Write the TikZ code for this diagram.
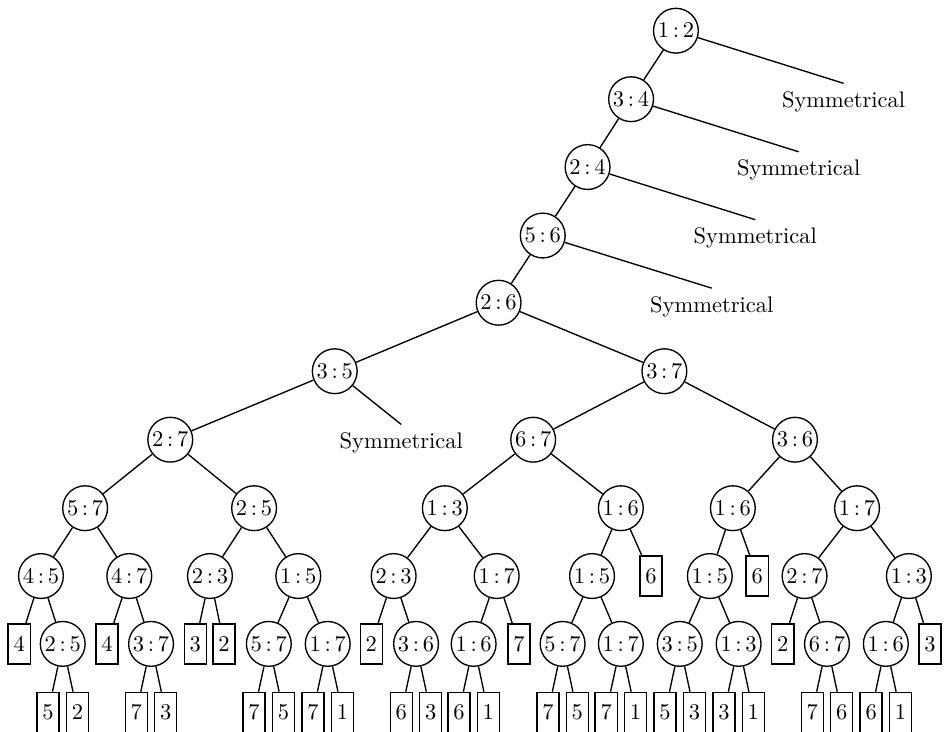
\documentclass[tikz,border=0pt]{standalone}
\usepackage{amsmath}
\usepackage{tikz}
\usetikzlibrary{positioning,calc}

\newcommand{\cmpr}[2]{$#1\,{:}\,#2$}

\begin{document}
\begin{tikzpicture}[semithick,
cmp/.style={draw,circle,minimum size=7mm,inner sep=0pt},
leaf/.style={draw,minimum width=3.45mm,minimum height=6.25mm,inner sep=0pt},
sym/.style={draw=none,fill=none}
]
\useasboundingbox (0,0) rectangle (14.78,-11.435);
% spine of the tree
\node[cmp] (s1) at (10.56,-0.48) {\cmpr12};
\node[cmp] (s2) at (9.86,-1.55) {\cmpr34};
\node[cmp] (s3) at (9.18,-2.61) {\cmpr24};
\node[cmp] (s4) at (8.48,-3.68) {\cmpr56};
\node[cmp] (s5) at (7.79,-4.73) {\cmpr26};
\node[sym] (sym1) at (13.18,-1.59) {Symmetrical};
\node[sym] (sym2) at (12.48,-2.66) {Symmetrical};
\node[sym] (sym3) at (11.80,-3.72) {Symmetrical};
\node[sym] (sym4) at (11.12,-4.79) {Symmetrical};
% level 5 and 6
\node[cmp] (l) at (5.23,-5.80) {\cmpr35};
\node[cmp] (r) at (10.38,-5.80) {\cmpr37};
\node[cmp] (ll) at (2.66,-6.87) {\cmpr27};
\node[sym] (sym5) at (6.27,-6.92) {Symmetrical};
\node[cmp] (rl) at (8.33,-6.87) {\cmpr67};
\node[cmp] (rr) at (12.42,-6.87) {\cmpr36};
% level 7
\node[cmp] (lll) at (1.33,-7.94) {\cmpr57};
\node[cmp] (llr) at (3.97,-7.94) {\cmpr25};
\node[cmp] (rll) at (6.95,-7.94) {\cmpr13};
\node[cmp] (rlr) at (9.70,-7.94) {\cmpr16};
\node[cmp] (rrl) at (11.45,-7.94) {\cmpr16};
\node[cmp] (rrr) at (13.39,-7.94) {\cmpr17};
% level 8
\node[cmp] (llll) at (0.64,-9.00) {\cmpr45};
\node[cmp] (lllr) at (2.02,-9.00) {\cmpr47};
\node[cmp] (llrl) at (3.28,-9.00) {\cmpr23};
\node[cmp] (llrr) at (4.66,-9.00) {\cmpr15};
\node[cmp] (rlll) at (6.15,-9.00) {\cmpr23};
\node[cmp] (rllr) at (7.76,-9.00) {\cmpr17};
\node[cmp] (rlrl) at (9.25,-9.00) {\cmpr15};
\node[leaf] (rlrr) at (10.17,-9.00) {6};
\node[cmp] (rrll) at (11.09,-9.00) {\cmpr15};
\node[leaf] (rrlr) at (11.83,-9.00) {6};
\node[cmp] (rrrl) at (12.57,-9.00) {\cmpr27};
\node[cmp] (rrrr) at (14.20,-9.00) {\cmpr13};
% level 9
\node[leaf] (lllll) at (0.30,-10.06) {4};
\node[cmp] (llllr) at (0.98,-10.06) {\cmpr25};
\node[leaf] (lllrl) at (1.67,-10.06) {4};
\node[cmp] (lllrr) at (2.36,-10.06) {\cmpr37};
\node[leaf] (llrll) at (3.05,-10.06) {3};
\node[leaf] (llrlr) at (3.50,-10.06) {2};
\node[cmp] (llrrl) at (4.20,-10.06) {\cmpr57};
\node[cmp] (llrrr) at (5.12,-10.06) {\cmpr17};
\node[leaf] (rllll) at (5.80,-10.06) {2};
\node[cmp] (rlllr) at (6.50,-10.06) {\cmpr36};
\node[cmp] (rllrl) at (7.40,-10.06) {\cmpr16};
\node[leaf] (rllrr) at (8.11,-10.06) {7};
\node[cmp] (rlrll) at (8.79,-10.06) {\cmpr57};
\node[cmp] (rlrlr) at (9.70,-10.06) {\cmpr17};
\node[cmp] (rrlll) at (10.62,-10.06) {\cmpr35};
\node[cmp] (rrllr) at (11.54,-10.06) {\cmpr13};
\node[leaf] (rrrll) at (12.23,-10.06) {2};
\node[cmp] (rrrlr) at (12.92,-10.06) {\cmpr67};
\node[cmp] (rrrrl) at (13.84,-10.06) {\cmpr16};
\node[leaf] (rrrrr) at (14.53,-10.06) {3};
% level 10, two leaves under each comparison
\foreach \p/\a/\b in {llllr/5/2,lllrr/7/3,llrrl/7/5,llrrr/7/1,rlllr/6/3,rllrl/6/1,
  rlrll/7/5,rlrlr/7/1,rrlll/5/3,rrllr/3/1,rrrlr/7/6,rrrrl/6/1}{
  \node[leaf] (\p-a) at ($(\p)+(-0.23,-1.07)$) {\a};
  \node[leaf] (\p-b) at ($(\p)+(0.23,-1.07)$) {\b};
  \draw (\p)--(\p-a);
  \draw (\p)--(\p-b);
}
\foreach \a/\b in {s1/s2,s2/s3,s3/s4,s4/s5,s5/l,s5/r,l/ll,r/rl,r/rr,
  ll/lll,ll/llr,rl/rll,rl/rlr,rr/rrl,rr/rrr,
  lll/llll,lll/lllr,llr/llrl,llr/llrr,rll/rlll,rll/rllr,rlr/rlrl,rlr/rlrr,
  rrl/rrll,rrl/rrlr,rrr/rrrl,rrr/rrrr,
  llll/lllll,llll/llllr,lllr/lllrl,lllr/lllrr,llrl/llrll,llrl/llrlr,
  llrr/llrrl,llrr/llrrr,rlll/rllll,rlll/rlllr,rllr/rllrl,rllr/rllrr,
  rlrl/rlrll,rlrl/rlrlr,rrll/rrlll,rrll/rrllr,rrrl/rrrll,rrrl/rrrlr,
  rrrr/rrrrl,rrrr/rrrrr}
  \draw (\a)--(\b);
\draw (s1)--(sym1.north);
\draw (s2)--(sym2.north);
\draw (s3)--(sym3.north);
\draw (s4)--(sym4.north);
\draw (l)--(sym5.north);
\end{tikzpicture}
\end{document}
